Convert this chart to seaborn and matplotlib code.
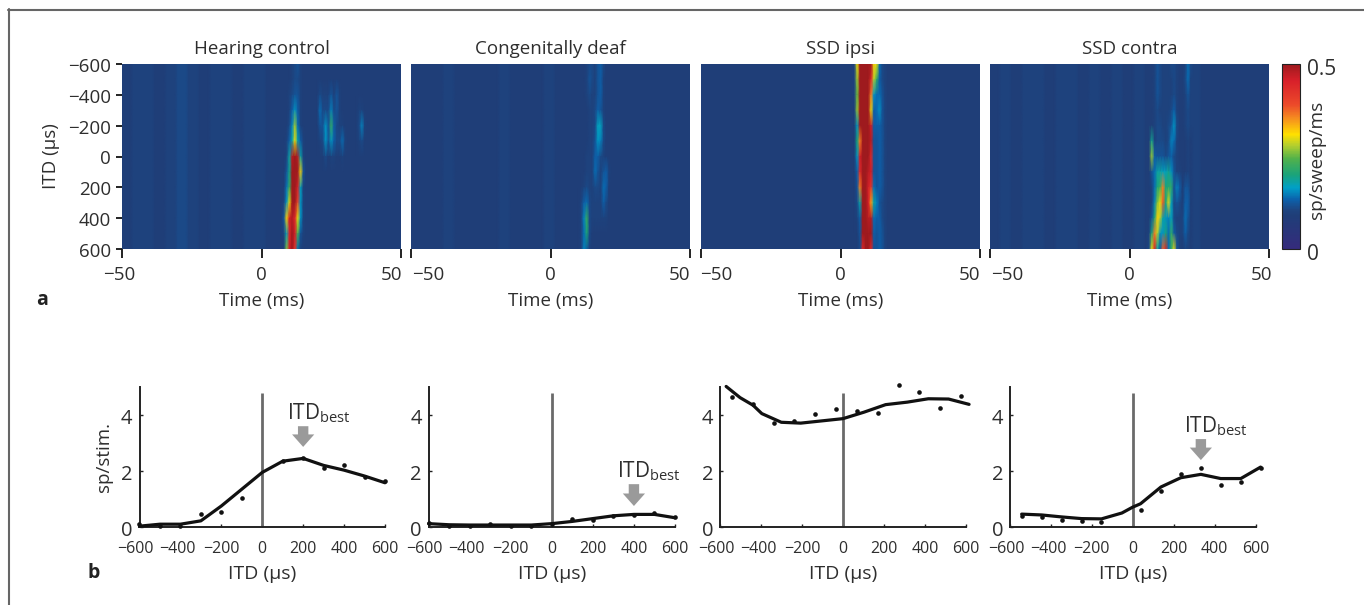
import numpy as np
import pandas as pd
import seaborn as sns
import matplotlib
matplotlib.use("Agg")
import matplotlib.pyplot as plt
from matplotlib.colors import LinearSegmentedColormap
from matplotlib.lines import Line2D
from matplotlib.transforms import ScaledTranslation

# ---------- data ----------
TITLES = ["Hearing control", "Congenitally deaf", "SSD ipsi", "SSD contra"]
ITD_ROWS = [-600, -500, -400, -300, -200, -100, 0, 100, 200, 300, 400, 500, 600]
TIME_MS = list(range(-50, 51))

# background activity, hundredths of sp/sweep/ms, per 4 ms from -50 ms
BG_HC = [9, 10, 10, 9, 10, 11, 10, 9, 10, 10, 9, 10, 10, 9, 9, 9, 9, 9, 9, 9, 9, 9, 9, 9, 9, 9]
BG_CD = [9, 9, 9, 10, 9, 9, 9, 9, 10, 9, 9, 9, 10, 9, 9, 9, 9, 9, 9, 9, 9, 9, 9, 9, 9, 9]
BG_IP = [9, 9, 9, 9, 9, 9, 9, 9, 9, 9, 9, 9, 9, 9, 9, 9, 9, 9, 9, 9, 9, 9, 9, 9, 9, 9]
BG_CO = [9, 10, 9, 10, 10, 9, 10, 10, 9, 10, 9, 10, 9, 10, 9, 10, 9, 9, 10, 9, 9, 9, 9, 9, 9, 9]

# response by ITD row, per 1 ms from the start time
HC_START = 6
HC_CORE = [
    [9, 9, 9, 9, 9, 10, 11, 12, 10, 9],
    [9, 9, 9, 9, 9, 10, 11, 11, 10, 9],
    [9, 9, 9, 9, 10, 11, 12, 12, 10, 9],
    [9, 9, 9, 9, 10, 13, 16, 13, 10, 9],
    [9, 9, 9, 9, 11, 15, 27, 14, 10, 9],
    [9, 9, 9, 10, 13, 18, 30, 18, 13, 10],
    [9, 9, 9, 10, 18, 48, 50, 48, 18, 10],
    [9, 9, 9, 12, 19, 50, 50, 50, 32, 12],
    [9, 9, 9, 14, 22, 50, 50, 46, 17, 10],
    [9, 9, 10, 16, 30, 50, 50, 40, 16, 10],
    [9, 9, 12, 32, 46, 48, 44, 30, 16, 10],
    [9, 9, 10, 17, 44, 50, 46, 24, 12, 10],
    [9, 9, 9, 26, 46, 50, 42, 14, 10, 9],
]
HC_LATE_START = 20
HC_LATE_ROW_START = 2
HC_LATE = [
    [9, 11, 10, 10, 10, 12, 10, 12, 10, 9, 9, 9, 9, 9, 9, 9, 9, 9],
    [9, 14, 11, 11, 11, 15, 11, 12, 10, 9, 9, 9, 9, 9, 9, 10, 10, 9],
    [9, 12, 12, 16, 12, 22, 13, 11, 10, 10, 9, 9, 9, 9, 9, 11, 15, 10],
    [9, 10, 11, 16, 12, 16, 13, 11, 11, 14, 10, 9, 9, 9, 9, 10, 11, 9],
    [9, 9, 9, 11, 9, 10, 10, 9, 9, 10, 9, 9, 9, 9, 9, 9, 9, 9],
]
CD_START = 10
CD_CORE = [
    [9, 9, 9, 10, 11, 11, 10, 12, 13, 11, 9, 9],
    [9, 9, 9, 10, 12, 11, 10, 12, 13, 10, 9, 9],
    [9, 9, 9, 10, 11, 10, 10, 12, 13, 10, 9, 9],
    [9, 9, 9, 9, 10, 10, 11, 13, 12, 10, 9, 9],
    [9, 9, 9, 9, 10, 10, 11, 17, 17, 11, 9, 9],
    [9, 9, 9, 9, 10, 10, 12, 16, 15, 11, 9, 9],
    [9, 9, 9, 10, 10, 10, 13, 13, 11, 10, 9, 9],
    [9, 9, 9, 10, 10, 10, 14, 12, 10, 12, 13, 10],
    [9, 9, 10, 11, 10, 10, 11, 11, 10, 14, 13, 9],
    [9, 10, 13, 14, 11, 10, 10, 10, 10, 13, 11, 9],
    [9, 10, 15, 22, 11, 10, 10, 10, 10, 10, 10, 9],
    [9, 10, 14, 20, 11, 9, 9, 9, 9, 9, 9, 9],
    [9, 10, 15, 13, 10, 9, 9, 9, 9, 9, 9, 9],
]
IP_START = 5
IP_CORE = [
    [10, 30, 50, 50, 50, 50, 50, 32, 30, 14, 11, 10, 9],
    [10, 27, 50, 50, 50, 50, 44, 28, 22, 13, 11, 10, 9],
    [10, 25, 50, 50, 50, 50, 36, 16, 14, 14, 12, 10, 9],
    [9, 27, 50, 50, 50, 50, 30, 13, 14, 16, 12, 10, 9],
    [9, 16, 50, 50, 50, 50, 46, 13, 13, 13, 12, 10, 9],
    [9, 20, 36, 50, 50, 50, 48, 12, 12, 13, 12, 10, 9],
    [9, 16, 46, 50, 50, 50, 44, 12, 12, 13, 12, 10, 9],
    [9, 13, 44, 50, 50, 48, 46, 12, 12, 13, 12, 10, 9],
    [9, 12, 36, 50, 50, 46, 42, 14, 12, 13, 12, 10, 9],
    [9, 11, 18, 50, 50, 46, 34, 18, 15, 12, 11, 10, 9],
    [9, 10, 13, 50, 50, 48, 48, 14, 13, 13, 11, 10, 9],
    [9, 9, 12, 50, 50, 50, 50, 13, 12, 13, 12, 10, 9],
    [9, 9, 11, 44, 50, 50, 44, 12, 12, 13, 12, 10, 9],
]
CO_START = 7
CO_CORE = [
    [9, 9, 10, 12, 11, 10, 10, 10, 11, 11, 10, 9, 9, 10, 14, 11],
    [9, 9, 10, 12, 11, 10, 10, 10, 10, 11, 10, 9, 9, 11, 14, 10],
    [9, 9, 10, 12, 11, 10, 10, 10, 10, 11, 10, 9, 9, 10, 12, 10],
    [9, 9, 10, 11, 10, 10, 10, 10, 11, 13, 10, 9, 9, 10, 11, 10],
    [9, 9, 10, 11, 11, 10, 10, 11, 12, 16, 11, 9, 9, 10, 11, 10],
    [9, 19, 10, 11, 11, 11, 10, 11, 15, 14, 10, 9, 9, 9, 10, 9],
    [9, 27, 13, 12, 12, 12, 11, 12, 13, 11, 10, 9, 9, 9, 10, 9],
    [9, 12, 14, 18, 18, 17, 17, 19, 16, 12, 10, 10, 9, 9, 10, 9],
    [9, 10, 14, 20, 23, 36, 20, 21, 22, 12, 15, 13, 9, 12, 12, 9],
    [9, 10, 15, 26, 30, 38, 20, 30, 17, 11, 12, 11, 9, 13, 13, 9],
    [9, 12, 20, 32, 28, 18, 16, 15, 17, 11, 10, 10, 10, 14, 12, 9],
    [10, 20, 36, 28, 16, 16, 20, 14, 22, 13, 11, 10, 10, 13, 11, 9],
    [11, 30, 46, 18, 12, 38, 44, 14, 22, 30, 12, 10, 9, 10, 10, 9],
]

# tuning curves
B1_LINE_X = [-600, -500, -400, -300, -200, -100, 0, 100, 200, 300, 400, 500, 600]
B1_LINE_Y = [0.03, 0.10, 0.10, 0.22, 0.75, 1.35, 1.95, 2.35, 2.45, 2.20, 2.03, 1.82, 1.58]
B1_DOT_X = [-600, -500, -400, -300, -200, -100, 100, 200, 300, 400, 500, 600]
B1_DOT_Y = [0.10, 0.02, 0.05, 0.45, 0.55, 1.05, 2.35, 2.45, 2.10, 2.20, 1.80, 1.65]

B2_LINE_X = [-600, -500, -400, -300, -200, -100, 0, 100, 200, 300, 400, 500, 600]
B2_LINE_Y = [0.12, 0.08, 0.07, 0.07, 0.07, 0.07, 0.12, 0.20, 0.30, 0.40, 0.45, 0.45, 0.33]
B2_DOT_X = [-600, -500, -400, -300, -200, -100, 0, 100, 200, 300, 400, 500, 600]
B2_DOT_Y = [0.15, 0.05, 0.05, 0.12, 0.05, 0.05, 0.10, 0.28, 0.25, 0.40, 0.42, 0.50, 0.35]

B3_LINE_X = [-570, -502, -439, -396, -301, -206, 0, 102, 208, 314, 416, 515, 615]
B3_LINE_Y = [5.02, 4.62, 4.35, 4.05, 3.74, 3.71, 3.87, 4.10, 4.37, 4.46, 4.58, 4.57, 4.38]
B3_DOT_X = [-540, -441, -339, -237, -136, -34, 68, 170, 271, 373, 475, 577]
B3_DOT_Y = [4.64, 4.38, 3.71, 3.77, 4.02, 4.23, 4.13, 4.06, 5.08, 4.81, 4.25, 4.68]

B4_LINE_X = [-543, -445, -348, -250, -153, -53, 0, 38, 138, 235, 333, 430, 528, 625]
B4_LINE_Y = [0.46, 0.43, 0.36, 0.30, 0.29, 0.50, 0.71, 0.83, 1.43, 1.76, 1.88, 1.73, 1.73, 2.14]
B4_DOT_X = [-543, -445, -348, -250, -153, 38, 138, 235, 333, 430, 528, 625]
B4_DOT_Y = [0.39, 0.36, 0.26, 0.20, 0.19, 0.61, 1.29, 1.88, 2.10, 1.50, 1.60, 2.12]

BEST_X = [200, 400, None, 333]
ARROW_TOP = [3.6, 1.53, None, 3.14]
ARROW_TIP = [2.86, 0.75, None, 2.39]
XT_US = [-600, -400, -200, 0, 200, 400, 600]
YT_SP = [0, 2, 4]

# ---------- style ----------
sns.set_theme(style="white")
FONT = "Open Sans"
plt.rcParams["font.family"] = [FONT, "DejaVu Sans"]
plt.rcParams["mathtext.fontset"] = "custom"
plt.rcParams["mathtext.rm"] = FONT
plt.rcParams["mathtext.default"] = "rm"
plt.rcParams["axes.unicode_minus"] = True
TXT = "#2e2e2e"
W, H = 1364, 605
fig = plt.figure(figsize=(W / 100, H / 100), dpi=100, facecolor="white")


def axpx(x0, y0, x1, y1):
    return fig.add_axes([x0 / W, 1 - y1 / H, (x1 - x0) / W, (y1 - y0) / H])


def shift(label, dx, dy=0):
    label.set_transform(label.get_transform() + ScaledTranslation(dx / 100, -dy / 100, fig.dpi_scale_trans))


def build(bg, start, core):
    m = np.tile(np.repeat(bg, 4)[:100], (len(ITD_ROWS), 1))
    m = np.hstack([m, m[:, -1:]]).astype(float)
    core = np.array(core, dtype=float)
    i = TIME_MS.index(start)
    m[:, i:i + core.shape[1]] = core
    return m


CMAP = LinearSegmentedColormap.from_list("spikes", [
    (0.00, "#352b7c"), (0.18, "#1f3e78"), (0.21, "#1e4480"), (0.27, "#0b63ad"),
    (0.33, "#00a0c8"), (0.40, "#1aa37a"), (0.49, "#53b24a"), (0.56, "#b4cf2e"),
    (0.62, "#ffe000"), (0.71, "#f58a20"), (0.78, "#ec4a2a"), (0.91, "#d8202a"),
    (1.00, "#9e1a1e")])

m1 = build(BG_HC, HC_START, HC_CORE)
late = np.array(HC_LATE, dtype=float)
li = TIME_MS.index(HC_LATE_START)
m1[HC_LATE_ROW_START:HC_LATE_ROW_START + late.shape[0], li:li + late.shape[1]] = late
mats = [m1, build(BG_CD, CD_START, CD_CORE), build(BG_IP, IP_START, IP_CORE), build(BG_CO, CO_START, CO_CORE)]

top_x = [(122, 401), (411, 690), (701, 980), (990, 1269)]
# (left-label shift, right-label shift)
x_shift = [(-3, -9), (17, -10), (15, -10), (17, -8)]
cax = axpx(1282, 64, 1300, 249)
FS = 13.5

for i, (m, (x0, x1)) in enumerate(zip(mats, top_x)):
    ax = axpx(x0, 64, x1, 249)
    df = pd.DataFrame(m / 100, index=ITD_ROWS, columns=TIME_MS)
    sns.heatmap(df, ax=ax, cmap=CMAP, vmin=0, vmax=0.5, shading="gouraud",
                cbar=(i == 3), cbar_ax=cax if i == 3 else None,
                xticklabels=False, yticklabels=False)
    ax.set_xlim(0, 100)
    ax.set_ylim(12, 0)
    ax.set_xticks([0, 50, 100])
    ax.set_xticklabels(["\u221250", "0", "50"], fontsize=FS, color=TXT)
    ax.tick_params(axis="x", length=6.5, width=1.3, color="#111", bottom=True, pad=5.5)
    shift(ax.get_xticklabels()[0], x_shift[i][0])
    shift(ax.get_xticklabels()[2], x_shift[i][1])
    ax.set_xlabel("Time (ms)", fontsize=FS, color=TXT, labelpad=6)
    ax.set_title(TITLES[i], fontsize=FS, color=TXT, pad=7)
    if i == 0:
        ax.set_yticks([0, 2, 4, 6, 8, 10, 12])
        ax.set_yticklabels(["\u2212600", "\u2212400", "\u2212200", "0", "200", "400", "600"],
                           fontsize=FS, color=TXT, rotation=0)
        ax.tick_params(axis="y", length=4, width=1.3, color="#111", left=True, pad=4)
        for lab in ax.get_yticklabels():
            shift(lab, 0, 1)
        ax.set_ylabel("ITD (\u00b5s)", fontsize=FS, color=TXT, labelpad=6)
    else:
        ax.set_yticks([])
    for s in ax.spines.values():
        s.set_visible(False)

cbar = ax.collections[0].colorbar
cbar.set_ticks([0, 0.5])
cbar.set_ticklabels(["0", "0.5"], fontsize=15, color=TXT)
cbar.ax.tick_params(length=0, pad=5)
for lab in cbar.ax.get_yticklabels():
    shift(lab, 0, 3)
cbar.outline.set_visible(True)
cbar.outline.set_edgecolor("#222")
cbar.outline.set_linewidth(0.8)
fig.text(1317 / W, 1 - 160 / H, "sp/sweep/ms", rotation=90, ha="center", va="center",
         fontsize=13.7, color=TXT)

# ---------- tuning curves ----------
bot_x = [(139.5, 385), (428.6, 675), (720, 966), (1010, 1255.5)]
lines = [(B1_LINE_X, B1_LINE_Y), (B2_LINE_X, B2_LINE_Y), (B3_LINE_X, B3_LINE_Y), (B4_LINE_X, B4_LINE_Y)]
dots = [(B1_DOT_X, B1_DOT_Y), (B2_DOT_X, B2_DOT_Y), (B3_DOT_X, B3_DOT_Y), (B4_DOT_X, B4_DOT_Y)]

for i, (x0, x1) in enumerate(bot_x):
    ax = axpx(x0, 387, x1, 527)
    ax.patch.set_alpha(0)
    ax.set_xlim(-600, 600)
    ax.set_ylim(0, 5)
    ax.plot([0, 0], [0, 4.8], color="#6a6a6a", lw=2.0, zorder=2, solid_capstyle="butt")
    sns.scatterplot(x=dots[i][0], y=dots[i][1], ax=ax, color="#111", s=11, linewidth=0,
                    clip_on=False, zorder=4)
    sns.lineplot(x=lines[i][0], y=lines[i][1], ax=ax, color="#111", lw=2.3, sort=False,
                 clip_on=False, zorder=3, errorbar=None)
    sns.despine(ax=ax)
    for s in ("left", "bottom"):
        ax.spines[s].set_linewidth(1.4)
        ax.spines[s].set_color("#222")
    ax.set_xticks(XT_US)
    ax.set_xticklabels(["\u2212600", "\u2212400", "\u2212200", "0", "200", "400", "600"],
                       fontsize=11.5, color=TXT)
    ax.set_yticks(YT_SP)
    ax.set_yticklabels(["0", "2", "4"], fontsize=14.5, color=TXT)
    ax.tick_params(axis="x", direction="in", length=2, width=1.0, color="#222", bottom=True, pad=10)
    ax.tick_params(axis="y", direction="in", length=2, width=1.0, color="#222", left=True, pad=5)
    shift(ax.get_xticklabels()[0], -4)
    shift(ax.get_xticklabels()[1], -3)
    for lab in ax.get_yticklabels():
        shift(lab, 0, 1)
    ax.set_xlabel("ITD (\u00b5s)", fontsize=14, color=TXT, labelpad=6)
    if i == 0:
        ax.set_ylabel("sp/stim.", fontsize=13.5, color=TXT, labelpad=6)
    if BEST_X[i] is not None:
        ax.annotate("", xy=(BEST_X[i], ARROW_TIP[i]), xytext=(BEST_X[i], ARROW_TOP[i]),
                    arrowprops=dict(width=7.5, headwidth=16, headlength=9, color="#9a9a9a", shrink=0, lw=0))
        ax.annotate("ITD$_{\\mathrm{best}}$", xy=(BEST_X[i], ARROW_TOP[i]), xytext=(11, 1),
                    textcoords="offset points", ha="center", va="bottom", fontsize=15, color=TXT)

fig.text(42 / W, 1 - 300 / H, "a", fontsize=14, fontweight="bold", color="#222", ha="center", va="center")
fig.text(94 / W, 1 - 573 / H, "b", fontsize=14, fontweight="bold", color="#222", ha="center", va="center")
fig.add_artist(Line2D([8.5 / W, 8.5 / W], [1 - 9 / H, 0], color="#666", lw=1.5))
fig.add_artist(Line2D([8 / W, 1], [1 - 9.5 / H, 1 - 9.5 / H], color="#666", lw=1.5))

fig.savefig("out.png", dpi=100)
